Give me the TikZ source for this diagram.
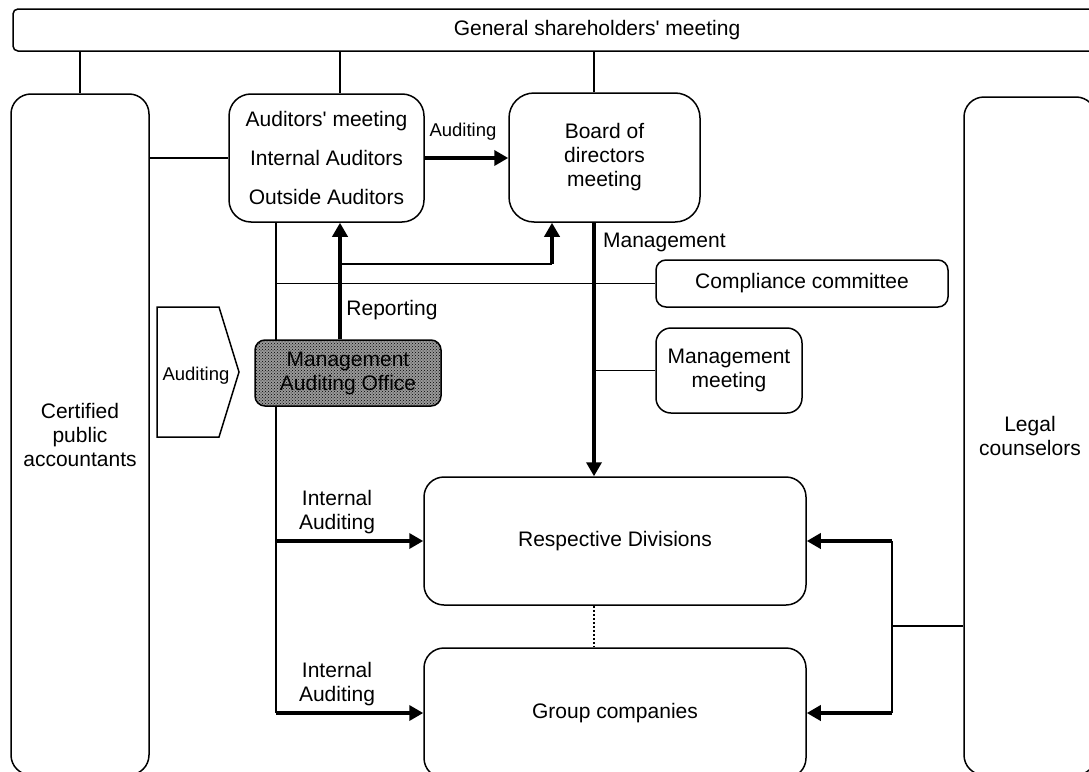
\documentclass[tikz,border=0pt]{standalone}
\usepackage{fontspec}
\setmainfont{Liberation Sans}
\usetikzlibrary{arrows.meta,patterns}
\newcommand{\fsm}{\fontsize{18.5}{21}\selectfont}

\begin{document}
\begin{tikzpicture}[x=1pt,y=-1pt,line width=1.5pt,
  font=\fontsize{21}{24}\selectfont,
  box/.style={draw,rounded corners=#1,inner sep=0pt,align=center},
  box/.default=20pt,
  thk/.style={line width=3.5pt,-{Triangle[length=14pt,width=15pt]}}]
  \useasboundingbox (0,0) rectangle (1089,771);
  \clip (0,0) rectangle (1089,771);
  % columns and rows of the connectors
  \coordinate (lv) at (276,0);
  \coordinate (rp) at (340,0);
  \coordinate (bu) at (552,0);
  \coordinate (mg) at (594,0);
  \coordinate (rv) at (892,0);
  \coordinate (hz) at (0,264);
  \coordinate (lg) at (0,626);

  \node[box=5pt,minimum width=1168pt,minimum height=42pt] (gsm) at (597,30) {General shareholders\textquotesingle{} meeting};
  \node[box,minimum width=138pt,minimum height=681pt] (cpa) at (80,434.5) {Certified\\public\\accountants};
  \node[box=22pt,minimum width=195pt,minimum height=128pt] (aud) at (326.5,158)
    {Auditors\textquotesingle{} meeting\\[15pt]Internal Auditors\\[15pt]Outside Auditors};
  \node[box=25pt,minimum width=191pt,minimum height=129pt] (brd) at (604.5,157.5) {Board of\\directors\\meeting};
  \node[box,minimum width=132pt,minimum height=678pt] (lc) at (1030,436) {Legal\\counselors};
  \node[box=10pt,minimum width=292pt,minimum height=47pt] (cc) at (802,283.5) {Compliance committee};
  \node[box=15pt,minimum width=146pt,minimum height=85pt] (mm) at (729,370.5) {Management\\meeting};
  \node[box,minimum width=382pt,minimum height=128pt] (rd) at (615,541) {Respective Divisions};
  \node[box,minimum width=382pt,minimum height=130pt] (gc) at (615,713) {Group companies};

  \draw (lv |- aud.south) -- (lv |- gc.west);
  \node[box=10pt,fill=black!40,postaction={pattern=crosshatch dots},
    minimum width=186pt,minimum height=66pt] (mao) at (348,373) {Management\\Auditing Office};

  \draw (157,307) -- (219,307) -- (239,372) -- (219,437) -- (157,437) -- cycle;
  \node[font=\fsm] (pa) at (196,376) {Auditing};

  \draw (cpa.north) -- (cpa.north |- gsm.south);
  \draw (rp |- aud.north) -- (rp |- gsm.south);
  \draw (mg |- brd.north) -- (mg |- gsm.south);
  \draw (cpa.east |- aud.west) -- (aud.west);
  \draw[thk] (aud.east) -- (aud.east -| brd.west);
  \draw[thk] (rp |- mao.north) -- (rp |- aud.south);
  \draw (rp |- hz) -- (bu |- hz);
  \draw[thk] (bu |- hz) -- (bu |- brd.south);
  \draw (lv |- cc.west) -- (cc.west);
  \draw[thk] (mg |- brd.south) -- (mg |- rd.north);
  \draw (mg |- mm.west) -- (mm.west);
  \draw[thk] (lv |- rd.west) -- (rd.west);
  \draw[thk] (lv |- gc.west) -- (gc.west);
  \draw[thk] (rv |- rd.east) -- (rd.east);
  \draw[thk] (rv |- gc.east) -- (gc.east);
  \draw (rv |- rd.east) -- (rv |- gc.east);
  \draw (rv |- lg) -- (lc.west |- lg);
  \draw[dash pattern=on 2pt off 2pt] (mg |- rd.south) -- (mg |- gc.north);

  \node[font=\fsm] (la) at (463,132) {Auditing};
  \node[anchor=west] (lm) at (599,242) {Management};
  \node (lr) at (392,310) {Reporting};
  \node[align=center] (li1) at (337,512) {Internal\\Auditing};
  \node[align=center] (li2) at (337,684) {Internal\\Auditing};
\end{tikzpicture}
\end{document}
